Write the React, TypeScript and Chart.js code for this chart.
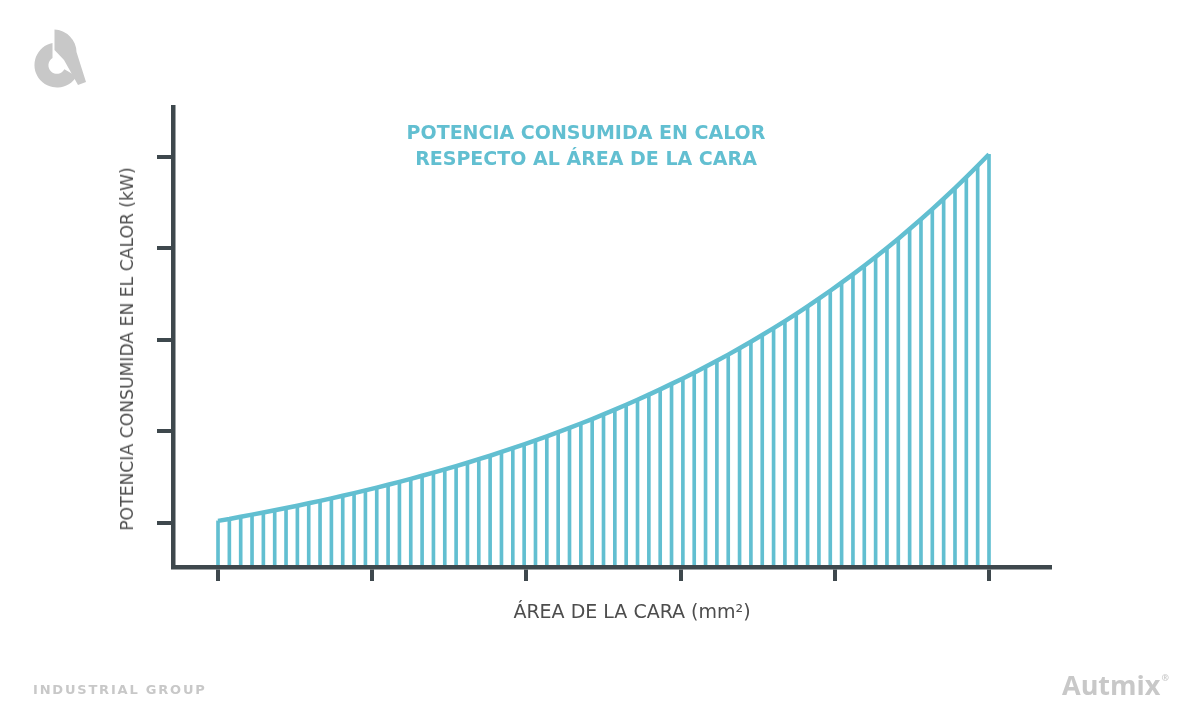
import React, { useEffect, useRef } from "react";
import { Chart, registerables } from "chart.js";

Chart.register(...registerables);

// Power consumed as heat (relative units) for each bar, left to right
const powerValues = [
  1.02, 1.04, 1.065, 1.088, 1.111, 1.136, 1.161, 1.186, 1.212, 1.239,
  1.266, 1.295, 1.323, 1.353, 1.383, 1.415, 1.446, 1.479, 1.513, 1.547,
  1.582, 1.618, 1.655, 1.694, 1.732, 1.773, 1.814, 1.856, 1.899, 1.944,
  1.989, 2.036, 2.084, 2.133, 2.184, 2.236, 2.289, 2.344, 2.4, 2.457,
  2.517, 2.577, 2.64, 2.704, 2.77, 2.837, 2.907, 2.978, 3.051, 3.126,
  3.204, 3.283, 3.365, 3.449, 3.535, 3.624, 3.714, 3.808, 3.904, 4.003,
  4.104, 4.209, 4.316, 4.427, 4.54, 4.657, 4.777, 4.901, 5.027,
];
// Face-area position of each bar (bar index along the x axis)
const areaPositions = powerValues.map((_, i) => i);
// Unlabelled tick positions
const areaTicks = [0, 13.6, 27.2, 40.8, 54.4, 68];
const powerTicks = [1, 2, 3, 4, 5];

const titleLines = ["POTENCIA CONSUMIDA EN CALOR", "RESPECTO AL ÁREA DE LA CARA"];
const yAxisTitle = "POTENCIA CONSUMIDA EN EL CALOR (kW)";
const xAxisTitle = "ÁREA DE LA CARA (mm²)";

const TEAL = "#62bfd1";
const AXIS = "#3e484d";
const LIGHT = "#c8c8c8";

export default function App() {
  const canvasRef = useRef<HTMLCanvasElement | null>(null);

  useEffect(() => {
    const canvas = canvasRef.current;
    if (!canvas) return;
    const points = areaPositions.map((x, i) => ({ x, y: powerValues[i] }));
    const yMin = 0.516;
    const chart = new Chart(canvas, {
      type: "line",
      data: {
        datasets: [
          {
            type: "line",
            data: points,
            borderColor: TEAL,
            borderWidth: 4.5,
            pointRadius: 0,
            tension: 0,
            borderJoinStyle: "round",
            order: 0,
          } as any,
          {
            type: "bar",
            data: points,
            backgroundColor: TEAL,
            borderWidth: 0,
            barThickness: 3,
            base: yMin,
            order: 1,
          } as any,
        ],
      },
      options: {
        responsive: false,
        animation: false,
        events: [],
        layout: { padding: { left: 0, top: 107, right: 150, bottom: 0 } },
        plugins: {
          legend: { display: false },
          tooltip: { enabled: false },
          title: { display: false },
        },
        scales: {
          x: {
            type: "linear",
            min: -3.97,
            max: 73.38,
            offset: false,
            afterBuildTicks: (s: any) => {
              s.ticks = areaTicks.map((v) => ({ value: v }));
            },
            afterFit: (s: any) => {
              s.height = 158;
            },
            grid: {
              offset: false,
              drawOnChartArea: false,
              drawTicks: true,
              tickLength: 14,
              tickWidth: 4,
              tickColor: AXIS,
              lineWidth: 4,
              color: AXIS,
            },
            border: { display: true, color: AXIS, width: 4.5, z: 1 },
            ticks: { display: false },
          },
          y: {
            type: "linear",
            min: yMin,
            max: 5.543,
            afterBuildTicks: (s: any) => {
              s.ticks = powerTicks.map((v) => ({ value: v }));
            },
            afterFit: (s: any) => {
              s.width = 173;
            },
            grid: {
              drawOnChartArea: false,
              drawTicks: true,
              tickLength: 16,
              tickWidth: 4,
              tickColor: AXIS,
              lineWidth: 4,
              color: AXIS,
            },
            border: { display: true, color: AXIS, width: 4.5, z: 1 },
            ticks: { display: false },
          },
        },
      } as any,
    });
    return () => chart.destroy();
  }, []);

  return (
    <div
      style={{
        position: "absolute",
        left: 0,
        top: 0,
        width: 1200,
        height: 725,
        background: "#ffffff",
        overflow: "hidden",
      }}
    >
      <canvas ref={canvasRef} width={1200} height={725} style={{ position: "absolute", left: 0, top: 0 }} />

      <svg width={120} height={110} style={{ position: "absolute", left: 0, top: 0 }}>
        <path
          d="M 52.5 43 A 22.5 22.5 0 1 0 76.5 76.2 L 64.4 69.3 A 8.5 8.5 0 1 1 52.5 58 Z"
          fill={LIGHT}
        />
        <path d="M 54.5 29.5 A 23 23 0 0 1 76.5 52 L 86 82 L 78 85 L 64 60 L 54.5 50 Z" fill={LIGHT} />
      </svg>

      <div
        style={{
          position: "absolute",
          left: 0,
          width: 1172,
          top: 119,
          textAlign: "center",
          fontFamily: "'DejaVu Sans', sans-serif",
          fontWeight: 700,
          fontSize: 19,
          lineHeight: "26px",
          color: TEAL,
          whiteSpace: "nowrap",
        }}
      >
        {titleLines.map((t) => (
          <div key={t}>{t}</div>
        ))}
      </div>

      <div
        style={{
          position: "absolute",
          left: 127,
          top: 349,
          transform: "translate(-50%, -50%) rotate(-90deg)",
          fontFamily: "'DejaVu Sans', sans-serif",
          fontSize: 17.2,
          color: "#4d4d4d",
          whiteSpace: "nowrap",
          lineHeight: "20px",
        }}
      >
        {yAxisTitle}
      </div>

      <div
        style={{
          position: "absolute",
          left: 632,
          top: 611,
          transform: "translate(-50%, -50%)",
          fontFamily: "'DejaVu Sans', sans-serif",
          fontSize: 19,
          color: "#4d4d4d",
          whiteSpace: "nowrap",
          lineHeight: "22px",
        }}
      >
        {xAxisTitle}
      </div>

      <div
        style={{
          position: "absolute",
          left: 33,
          top: 682,
          fontFamily: "'DejaVu Sans', sans-serif",
          fontWeight: 700,
          fontSize: 13,
          letterSpacing: "1.8px",
          color: LIGHT,
          whiteSpace: "nowrap",
          lineHeight: "16px",
        }}
      >
        INDUSTRIAL GROUP
      </div>

      <div
        style={{
          position: "absolute",
          left: 1062,
          top: 668,
          fontFamily: "'Open Sans', sans-serif",
          fontWeight: 700,
          fontSize: 27,
          color: LIGHT,
          whiteSpace: "nowrap",
          lineHeight: "34px",
        }}
      >
        Autmix
        <span style={{ fontSize: 9, verticalAlign: "top", lineHeight: "20px", marginLeft: 1 }}>®</span>
      </div>
    </div>
  );
}
